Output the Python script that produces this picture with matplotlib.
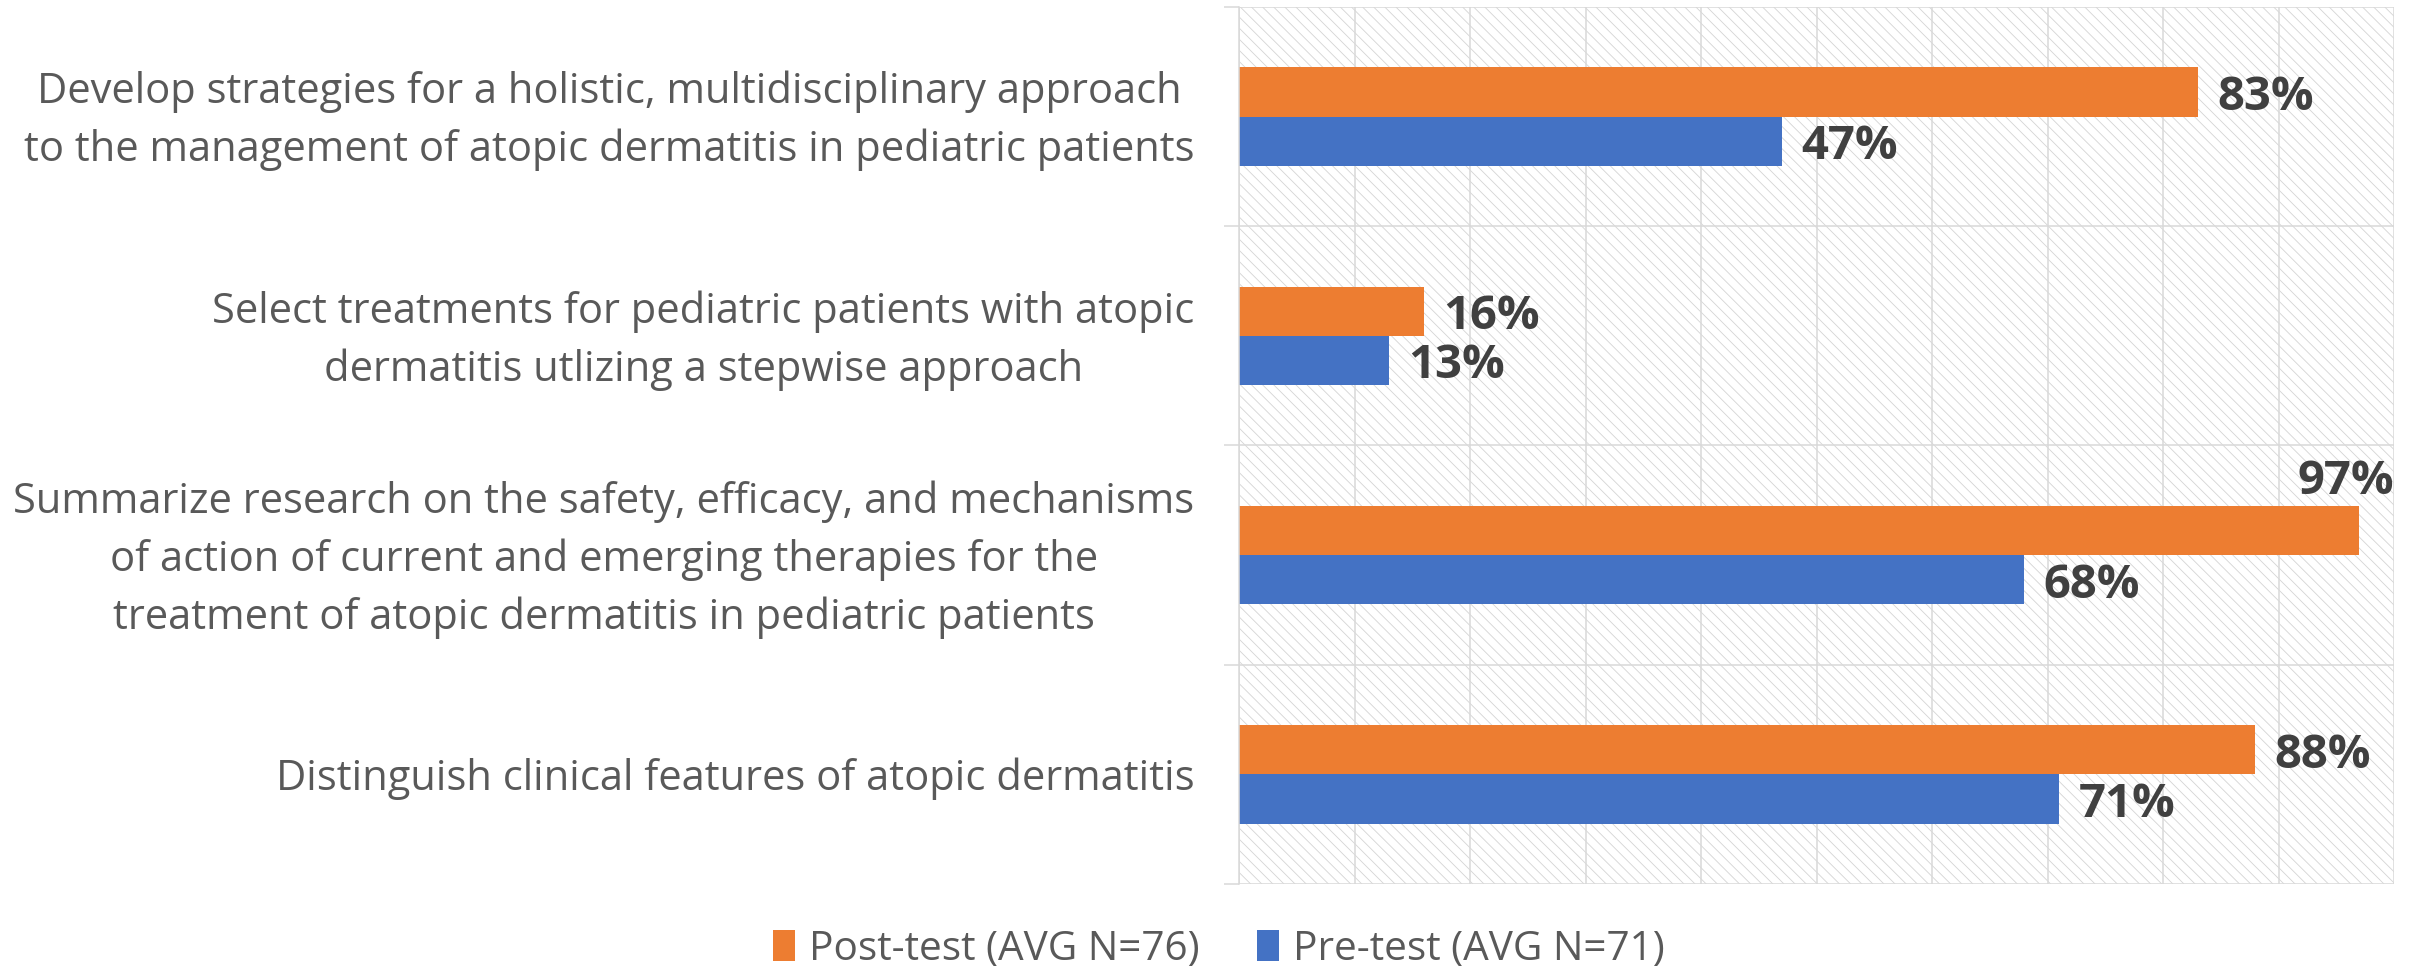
import matplotlib
matplotlib.use("Agg")
import matplotlib.pyplot as plt
from matplotlib.patches import Rectangle, Patch
from matplotlib.transforms import ScaledTranslation
import numpy as np

categories = [
    "Develop strategies for a holistic, multidisciplinary approach\nto the management of atopic dermatitis in pediatric patients",
    "Select treatments for pediatric patients with atopic\ndermatitis utlizing a stepwise approach",
    "Summarize research on the safety, efficacy, and mechanisms\nof action of current and emerging therapies for the\ntreatment of atopic dermatitis in pediatric patients",
    "Distinguish clinical features of atopic dermatitis",
]
post_test = [0.83, 0.16, 0.97, 0.88]
pre_test = [0.47, 0.13, 0.68, 0.71]
series_names = ["Post-test (AVG N=76)", "Pre-test (AVG N=71)"]

ORANGE = "#ED7D31"
BLUE = "#4472C4"
GRID = "#d9d9d9"
LABEL_COLOR = "#595959"
VALUE_COLOR = "#404040"

plt.rcParams["font.family"] = ["Open Sans", "DejaVu Sans"]
plt.rcParams["hatch.color"] = "#d4d4d4"
plt.rcParams["hatch.linewidth"] = 0.6

fig = plt.figure(figsize=(24.28, 9.67), dpi=100)
ax = fig.add_axes([0.5103, 0.0858, 0.986 - 0.5103, 0.9928 - 0.0858])

y = np.arange(len(categories))
h = 0.224

# hatched background
bg = Rectangle((0, 0), 1, 1, transform=ax.transAxes, facecolor="white",
               edgecolor="#d4d4d4", hatch="\\\\\\", linewidth=0, zorder=0.1)
ax.add_patch(bg)

b1 = ax.barh(y - h / 2, post_test, height=h, color=ORANGE, zorder=2)
b2 = ax.barh(y + h / 2, pre_test, height=h, color=BLUE, zorder=2)

ax.set_xlim(0, 1)
ax.set_ylim(len(categories) - 0.5, -0.5)

ax.set_xticks(np.arange(0, 1.01, 0.1))
ax.set_xticklabels([])
ax.tick_params(axis="x", length=0)
ax.grid(axis="x", color=GRID, linewidth=1.1, zorder=0.5)

# category labels
ax.set_yticks([])
label_tr = ax.get_yaxis_transform() + ScaledTranslation(-32 / 72, -3.3 / 72, fig.dpi_scale_trans)
for yi, cat in zip(y, categories):
    ax.text(0, yi, cat, transform=label_tr, ha="right", va="center",
            multialignment="center", linespacing=1.48, fontsize=30,
            color=LABEL_COLOR, clip_on=False)

ax.set_yticks(np.arange(-0.5, len(categories), 1.0), minor=True)
ax.tick_params(axis="y", which="minor", length=11, width=1.1, color=GRID)
ax.grid(axis="y", which="minor", color=GRID, linewidth=1.1, zorder=0.5)
ax.set_axisbelow(True)

for s in ["top", "right", "bottom"]:
    ax.spines[s].set_visible(False)
ax.spines["left"].set_color(GRID)
ax.spines["left"].set_linewidth(1.1)

# value labels
for bars, vals in ((b1, post_test), (b2, pre_test)):
    for rect, v in zip(bars, vals):
        yc = rect.get_y() + rect.get_height() / 2
        if v > 0.9:
            ax.annotate(f"{round(v*100)}%", xy=(1.0, yc), xytext=(0, 35),
                        textcoords="offset points", ha="right", va="center",
                        fontsize=34, fontweight="bold", color=VALUE_COLOR,
                        annotation_clip=False, zorder=3)
        else:
            ax.annotate(f"{round(v*100)}%", xy=(v, yc), xytext=(14, -4),
                        textcoords="offset points", ha="left", va="center",
                        fontsize=34, fontweight="bold", color=VALUE_COLOR,
                        zorder=3)

handles = [Patch(facecolor=ORANGE), Patch(facecolor=BLUE)]
fig.legend(handles, series_names, loc="center", bbox_to_anchor=(0.502, 0.018),
           ncol=2, frameon=False, fontsize=29.2, labelcolor=LABEL_COLOR,
           handlelength=0.55, handleheight=0.8, handletextpad=0.35,
           columnspacing=1.4)

fig.savefig("out.png", dpi=100)
